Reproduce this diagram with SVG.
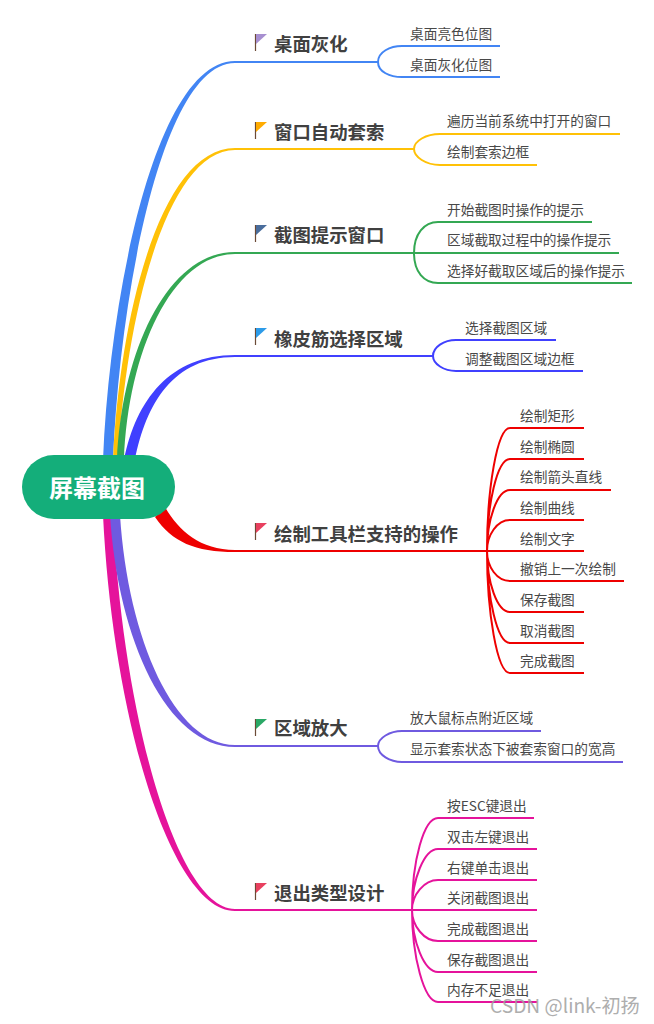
<svg xmlns="http://www.w3.org/2000/svg" width="654" height="1024" viewBox="0 0 654 1024">
<style>
text{font-family:"Noto Sans CJK SC","Noto Sans",sans-serif;fill:#484848}
.m{font-size:18.4px;font-weight:700;fill:#404040}
.s{font-size:13.7px}
.c{fill:none;stroke-width:2}
.pole{stroke:#6b4a35;stroke-width:1.2}
</style>
<rect width="654" height="1024" fill="#fff"/>
<g id="connectors">
<g id="c-blue"><path fill="#4285f4" d="M103 460C110 290 157 61 235 61H378V63H235C163 63 120 292 113 460Z"/><path class="c" stroke="#4285f4" d="M378 62C378 52 390 46 402 46H500M378 62C378 72 390 77 402 77H500"/></g>
<g id="c-yellow"><path fill="#ffc107" d="M113 460C120 310 162 148 235 148H414V150H235C168 150 126 312 118 460Z"/><path class="c" stroke="#ffc107" d="M414 149C414 141 426 134 440 134H620M414 149C414 157 426 165 440 165H537"/></g>
<g id="c-green"><path fill="#34a853" d="M117 460C122 350 168 252 235 252H414V254H235C172 254 128 352 124 460Z"/><path class="c" stroke="#34a853" d="M414 253C414 234 424 222 438 222H592M414 253H619M414 253C414 272 424 283 438 283H632"/></g>
<g id="c-indigo"><path fill="#4040ff" d="M124 460C136 400 170 355 235 355H433V357H235C173 357 146 404 135 460Z"/><path class="c" stroke="#4040ff" d="M433 356C433 347 444 340 456 340H556M433 356C433 364 444 371 456 371H583"/></g>
<g id="c-red"><path fill="#ee0000" d="M165 507C178 530 200 550 235 550H487V552H235C195 552 172 542 155 517Z"/><path class="c" stroke="#ee0000" d="M487 551C487 490 497 428 510 428H584M487 551C487 505 497 459 510 459H584M487 551C487 520 497 490 510 490H611M487 551C487 535 497 520 510 520H584M487 551H584M487 551C487 567 497 581 510 581H624M487 551C487 582 497 612 510 612H584M487 551C487 597 497 643 510 643H584M487 551C487 612 497 673 510 673H584"/></g>
<g id="c-magenta"><path fill="#e5139b" d="M103 515C113 722 172 911 235 911H412V909H235C178 909 123 720 113 515Z"/><path class="c" stroke="#e5139b" d="M412 910C412 860 424 818 438 818H534M412 910C412 880 424 849 438 849H537M412 910C412 895 424 880 438 880H537M412 910H537M412 910C412 926 424 941 438 941H537M412 910C412 941 424 972 438 972H537M412 910C412 956 424 1002 438 1002H537"/></g>
<g id="c-purple"><path fill="#6f5ae0" d="M110 515C118 640 167 747 235 747H378V745H235C175 745 128 640 120 515Z"/><path class="c" stroke="#6f5ae0" d="M378 746C378 738 390 731 402 731H541M378 746C378 755 390 762 402 762H623"/></g>
</g>
<g id="root"><rect x="22" y="455" width="153" height="64" rx="32" fill="#14ae7a"/><text x="97" y="497" text-anchor="middle" style="fill:#fff;font-size:24px;font-weight:700">屏幕截图</text></g>
<g id="n1"><path class="pole" d="M255.500 34V51"/><path fill="#a78fd0" d="M256 34H267L256 44Z"/><text class="m" x="274" y="51">桌面灰化</text></g>
<g id="n1a"><text class="s" x="410" y="39">桌面亮色位图</text></g>
<g id="n1b"><text class="s" x="410" y="70">桌面灰化位图</text></g>
<g id="n2"><path class="pole" d="M255.500 122V139"/><path fill="#ffab00" d="M256 122H267L256 132Z"/><text class="m" x="274" y="139">窗口自动套索</text></g>
<g id="n2a"><text class="s" x="447" y="126">遍历当前系统中打开的窗口</text></g>
<g id="n2b"><text class="s" x="447" y="157">绘制套索边框</text></g>
<g id="n3"><path class="pole" d="M255.500 225V242"/><path fill="#4a6d9c" d="M256 225H267L256 235Z"/><text class="m" x="274" y="242">截图提示窗口</text></g>
<g id="n3a"><text class="s" x="447" y="215">开始截图时操作的提示</text></g>
<g id="n3b"><text class="s" x="447" y="245">区域截取过程中的操作提示</text></g>
<g id="n3c"><text class="s" x="447" y="276">选择好截取区域后的操作提示</text></g>
<g id="n4"><path class="pole" d="M255.500 328V345"/><path fill="#2d9be8" d="M256 328H267L256 338Z"/><text class="m" x="274" y="346">橡皮筋选择区域</text></g>
<g id="n4a"><text class="s" x="465" y="333">选择截图区域</text></g>
<g id="n4b"><text class="s" x="465" y="364">调整截图区域边框</text></g>
<g id="n5"><path class="pole" d="M255.500 523V540"/><path fill="#e8405f" d="M256 523H267L256 533Z"/><text class="m" x="274" y="541">绘制工具栏支持的操作</text></g>
<g id="n5a"><text class="s" x="520" y="421">绘制矩形</text></g>
<g id="n5b"><text class="s" x="520" y="452">绘制椭圆</text></g>
<g id="n5c"><text class="s" x="520" y="482">绘制箭头直线</text></g>
<g id="n5d"><text class="s" x="520" y="513">绘制曲线</text></g>
<g id="n5e"><text class="s" x="520" y="544">绘制文字</text></g>
<g id="n5f"><text class="s" x="520" y="574">撤销上一次绘制</text></g>
<g id="n5g"><text class="s" x="520" y="605">保存截图</text></g>
<g id="n5h"><text class="s" x="520" y="636">取消截图</text></g>
<g id="n5i"><text class="s" x="520" y="666">完成截图</text></g>
<g id="n6"><path class="pole" d="M255.500 719V736"/><path fill="#2aa866" d="M256 719H267L256 729Z"/><text class="m" x="274" y="735">区域放大</text></g>
<g id="n6a"><text class="s" x="410" y="723">放大鼠标点附近区域</text></g>
<g id="n6b"><text class="s" x="410" y="754">显示套索状态下被套索窗口的宽高</text></g>
<g id="n7"><path class="pole" d="M255.500 883V900"/><path fill="#e8405f" d="M256 883H267L256 893Z"/><text class="m" x="274" y="900">退出类型设计</text></g>
<g id="n7a"><text class="s" x="447" y="811">按ESC键退出</text></g>
<g id="n7b"><text class="s" x="447" y="842">双击左键退出</text></g>
<g id="n7c"><text class="s" x="447" y="873">右键单击退出</text></g>
<g id="n7d"><text class="s" x="447" y="903">关闭截图退出</text></g>
<g id="n7e"><text class="s" x="447" y="934">完成截图退出</text></g>
<g id="n7f"><text class="s" x="447" y="965">保存截图退出</text></g>
<g id="n7g"><text class="s" x="447" y="995">内存不足退出</text></g>
<text x="490" y="1013" style="font-size:19.200px;fill:#a0a0a0;opacity:.85">CSDN @link-初扬</text>
</svg>
